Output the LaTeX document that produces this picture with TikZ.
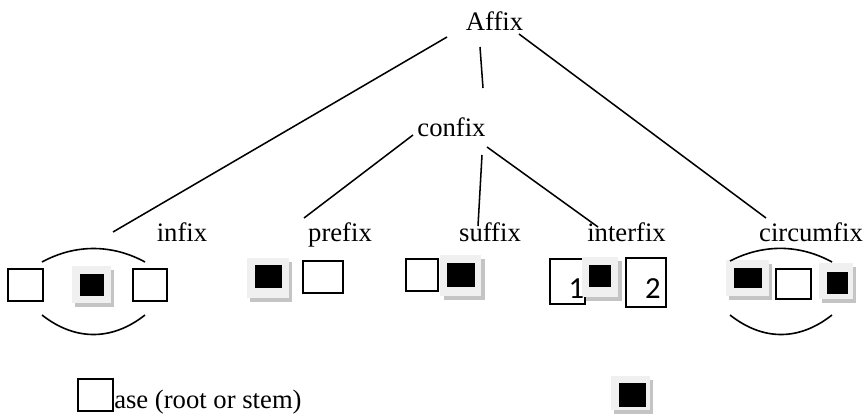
\documentclass[tikz,border=0pt]{standalone}
\usepackage{fontspec}
\setmainfont{Liberation Serif}
\newfontfamily\numfont{Carlito}

\definecolor{boxlight}{RGB}{240,240,240}
\definecolor{boxshade}{RGB}{196,196,196}

\tikzset{
  lbl/.style={anchor=base, inner sep=0pt, font=\fontsize{20}{24}\selectfont},
  num/.style={anchor=base, inner sep=0pt, font=\numfont\fontsize{23}{27}\selectfont},
  link/.style={line width=1.15pt},
  hook/.style={line width=1.2pt},
  basebox/.style={draw=black, line width=1.2pt, fill=white},
  affshade/.style={fill=boxshade},
  afflight/.style={fill=boxlight},
  affcore/.style={fill=black}
}

\begin{document}
\begin{tikzpicture}[x=0.75pt,y=0.75pt,yscale=-1,xscale=1]
\useasboundingbox (0,0) rectangle (863,419);

    % Text Node
    \node [lbl] (affix) at (494.5,30) {Affix};
    % Text Node
    \node [lbl] (confix) at (451.5,136) {confix};
    % Text Node
    \node [lbl] (infix) at (182,241) {infix};
    % Text Node
    \node [lbl] (prefix) at (340,241) {prefix};
    % Text Node
    \node [lbl] (suffix) at (490,241) {suffix};
    % Text Node
    \node [lbl] (interfix) at (626.5,241) {interfix};
    % Text Node
    \node [lbl] (circumfix) at (811,241) {circumfix};

    % line ends
    \coordinate (affixL) at (447,37);
    \coordinate (affixM) at (480,47);
    \coordinate (affixR) at (519,34);
    \coordinate (confixT) at (483,88);
    \coordinate (confixL) at (413,135);
    \coordinate (confixM) at (482,155);
    \coordinate (confixR) at (487,147);
    \coordinate (infixE) at (113,232);
    \coordinate (prefixE) at (304,218);
    \coordinate (suffixE) at (478,226);
    \coordinate (interfixE) at (598,227);
    \coordinate (circumfixE) at (766,218);

    %Straight Lines
    \draw [link] (affixL) -- (infixE);
    \draw [link] (affixM) -- (confixT);
    \draw [link] (affixR) -- (circumfixE);
    \draw [link] (confixL) -- (prefixE);
    \draw [link] (confixM) -- (suffixE);
    \draw [link] (confixR) -- (interfixE);

    %Shape: infix
    \draw [basebox] (8,269) rectangle (43,301);
    \fill [affshade] (75,270) rectangle (114,307);
    \fill [afflight] (72,266) rectangle (111,303);
    \fill [affcore] (80,274) rectangle (104,296);
    \draw [basebox] (133,269) rectangle (167,301);
    \draw [hook] (42,262) .. controls (75,244) and (112,244) .. (145,262);
    \draw [hook] (42,315) .. controls (75,341) and (112,341) .. (145,315);

    %Shape: prefix
    \fill [affshade] (250,262) rectangle (292,302);
    \fill [afflight] (247,258) rectangle (289,298);
    \fill [affcore] (255,265) rectangle (282,288);
    \draw [basebox] (303,261) rectangle (343,293);

    %Shape: suffix
    \draw [basebox] (406,259) rectangle (438,291);
    \fill [affshade] (444,259) rectangle (485,300);
    \fill [afflight] (440,255) rectangle (481,296);
    \fill [affcore] (447,263) rectangle (475,287);

    %Shape: interfix
    \draw [basebox] (550,259) rectangle (585,304);
    \fill [affshade] (586,261) rectangle (622,301);
    \fill [afflight] (582,257) rectangle (618,297);
    \fill [affcore] (589,265) rectangle (611,287);
    \draw [basebox] (626,258) rectangle (666,307);
    \node [num] (one) at (576.5,298) {1};
    \node [num] (two) at (653,298) {2};

    %Shape: circumfix
    \fill [affshade] (729,264) rectangle (772,300);
    \fill [afflight] (726,260) rectangle (769,296);
    \fill [affcore] (734,268) rectangle (762,288);
    \draw [basebox] (776,269) rectangle (811,299);
    \fill [affshade] (822,267) rectangle (856,303);
    \fill [afflight] (819,263) rectangle (853,299);
    \fill [affcore] (827,272) rectangle (848,294);
    \draw [hook] (730,261) .. controls (763,244) and (799,244) .. (832,262);
    \draw [hook] (730,315) .. controls (763,341) and (799,341) .. (832,315);

    %Shape: legend
    \draw [basebox] (78,379) rectangle (113,411);
    \node [lbl, anchor=base west] (baselbl) at (114,408) {ase (root or stem)};
    \fill [affshade] (614,380) rectangle (653,414);
    \fill [afflight] (611,376) rectangle (650,410);
    \fill [affcore] (619,383) rectangle (646,407);

\end{tikzpicture}
\end{document}
